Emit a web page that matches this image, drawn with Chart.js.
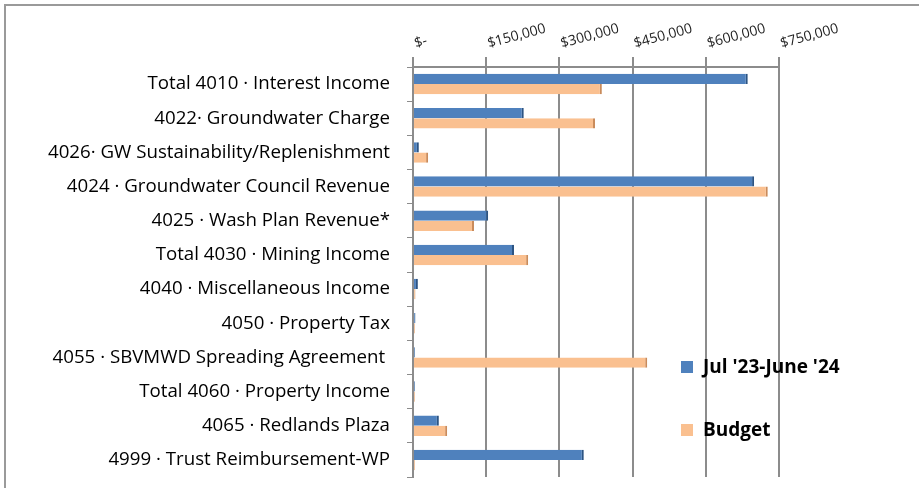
<!DOCTYPE html>
<html>
<head>
<meta charset="utf-8">
<script src="https://cdn.jsdelivr.net/npm/chart.js@4"></script>
<style>
  html, body { margin: 0; padding: 0; background: #fff; }
  #wrap { position: relative; width: 919px; height: 488px; overflow: hidden; }
  #frame { position: absolute; left: 4px; top: 4px; width: 940px; height: 520px;
           border-top: 2px solid #9a9a9a; border-left: 2px solid #9a9a9a; }
  canvas { position: absolute; left: 0; top: 0; }
</style>
</head>
<body>
<div id="wrap">
  <div id="frame"></div>
  <canvas id="myChart" width="919" height="488"></canvas>
</div>
<script>
var categories = [
  'Total 4010 \u00b7 Interest Income',
  '4022\u00b7 Groundwater Charge',
  '4026\u00b7 GW Sustainability/Replenishment',
  '4024 \u00b7 Groundwater Council Revenue',
  '4025 \u00b7 Wash Plan Revenue*',
  'Total 4030 \u00b7 Mining Income',
  '4040 \u00b7 Miscellaneous Income',
  '4050 \u00b7 Property Tax',
  '4055 \u00b7 SBVMWD Spreading Agreement ',
  'Total 4060 \u00b7 Property Income',
  '4065 \u00b7 Redlands Plaza',
  '4999 \u00b7 Trust Reimbursement-WP'
];
var actual = [686000, 227000, 12000, 699000, 154000, 207000, 10000, 5000, 4000, 4000, 53000, 350000];
var budget = [387000, 373000, 31000, 727000, 125000, 236000, 5000, 4000, 480000, 4000, 70000, 4000];
var seriesNames = ["Jul '23-June '24", 'Budget'];
var tickValues = [0, 150000, 300000, 450000, 600000, 750000];

var labelFont = "'Open Sans', sans-serif";

/* legend drawn by hand, stacked on the right */
var legendPlugin = {
  id: 'sideLegend',
  afterDraw: function(chart) {
    var c = chart.ctx;
    var items = [
      { text: seriesNames[0], color: '#4f81bd', x: 681, y: 367 },
      { text: seriesNames[1], color: '#fac090', x: 681, y: 430 }
    ];
    c.save();
    c.font = 'bold 19px ' + labelFont;
    c.textBaseline = 'middle';
    items.forEach(function(it) {
      c.fillStyle = it.color;
      c.fillRect(it.x, it.y - 6, 12, 12);
      c.fillStyle = '#000';
      c.fillText(it.text, it.x + 22, it.y + 1);
    });
    c.restore();
  }
};

var data = {
  labels: categories,
  datasets: [
    {
      label: seriesNames[0],
      data: actual,
      backgroundColor: '#4f81bd',
      borderColor: '#2c5483',
      borderWidth: { top: 0, right: 2, bottom: 0, left: 0 },
      borderSkipped: false
    },
    {
      label: seriesNames[1],
      data: budget,
      backgroundColor: '#fac090',
      borderColor: '#c98b5b',
      borderWidth: { top: 0, right: 2, bottom: 0, left: 0 },
      borderSkipped: false
    }
  ]
};

const config = {
  type: 'bar',
  data: data,
  plugins: [legendPlugin],
  options: {
    indexAxis: 'y',
    responsive: false,
    animation: false,
    categoryPercentage: 0.6,
    barPercentage: 1.0,
    layout: {
      padding: { top: 5, left: 5, right: 140, bottom: 11 }
    },
    scales: {
      x: {
        position: 'top',
        min: 0,
        max: 750000,
        afterBuildTicks: function(scale) {
          scale.ticks = tickValues.map(function(v) { return { value: v }; });
        },
        afterFit: function(scale) { scale.height = 62; },
        grid: {
          color: '#8c8c8c',
          lineWidth: 2,
          tickLength: 10
        },
        border: { color: '#8c8c8c', width: 2 },
        ticks: {
          minRotation: 15,
          maxRotation: 15,
          padding: 5,
          labelOffset: 6,
          color: '#222',
          font: { size: 14, family: labelFont },
          callback: function(v) {
            return v === 0 ? '$-' : '$' + v.toLocaleString('en-US');
          }
        }
      },
      y: {
        afterFit: function(scale) {
          scale.width = 408;
          scale.paddingTop = 0;
          scale.paddingBottom = 0;
        },
        grid: {
          drawOnChartArea: false,
          color: '#8c8c8c',
          tickLength: 6
        },
        border: { color: '#8c8c8c', width: 2 },
        ticks: {
          padding: 17,
          color: '#000',
          font: { size: 18.7, family: labelFont }
        }
      }
    },
    plugins: {
      legend: { display: false },
      tooltip: { enabled: false }
    }
  }
};

var myChart = new Chart(document.getElementById('myChart'), config);
</script>
</body>
</html>
